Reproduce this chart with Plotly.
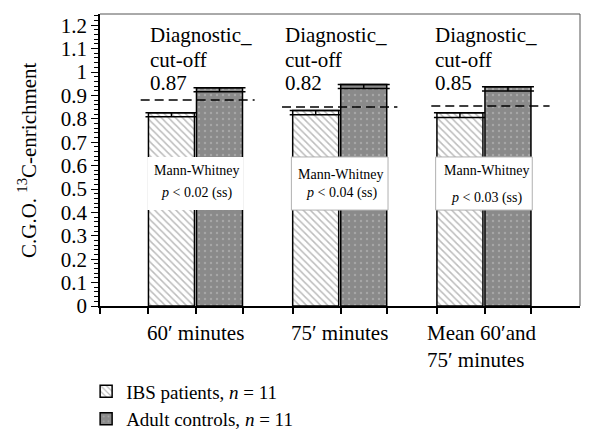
import plotly.graph_objects as go

# ---------------- data ----------------
categories = ["60′ minutes", "75′ minutes", "Mean 60′and<br>75′ minutes"]
series_names = ["IBS patients, <i>n</i> = 11", "Adult controls, <i>n</i> = 11"]
ibs_top = [0.826, 0.836, 0.826]
ibs_err = [0.017, 0.019, 0.020]
ctrl_top = [0.933, 0.947, 0.937]
ctrl_err = [0.017, 0.017, 0.018]
cutoff_line = [0.88, 0.85, 0.855]
cutoff_labels = ["0.87", "0.82", "0.85"]
p_labels = ["<i>p</i> < 0.02 (ss)", "<i>p</i> < 0.04 (ss)", "<i>p</i> < 0.03 (ss)"]
y_ticks = [0, 0.1, 0.2, 0.3, 0.4, 0.5, 0.6, 0.7, 0.8, 0.9, 1.0, 1.1, 1.2]

FONT = "Liberation Serif, Times New Roman, serif"
xpos = list(range(len(categories)))
BW = 0.319
OFF_IBS = -0.326
OFF_CTRL = 0.007
XR = [-0.662, 2.666]
YR = [0, 1.248]

fig = go.Figure()
fig.add_trace(go.Bar(
    x=xpos, y=ibs_top, name=series_names[0], width=BW, offset=OFF_IBS,
    marker=dict(color="white", line=dict(color="black", width=1.5),
                pattern=dict(shape="\\", fgcolor="#7a7a7a", bgcolor="white",
                             size=5, solidity=0.3)),
    error_y=dict(type="data", symmetric=False, array=[0] * 3, arrayminus=ibs_err,
                 color="black", thickness=1.5, width=26),
))
fig.add_trace(go.Bar(
    x=xpos, y=ctrl_top, name=series_names[1], width=BW, offset=OFF_CTRL,
    marker=dict(color="#8a8a8a", line=dict(color="black", width=1.5),
                pattern=dict(shape=".", fgcolor="#c4c4c4", bgcolor="#8a8a8a",
                             size=6, solidity=0.12)),
    error_y=dict(type="data", symmetric=False, array=[0] * 3, arrayminus=ctrl_err,
                 color="black", thickness=1.5, width=26),
))

shapes = []
annotations = []
label_dx = [-0.33, -0.395, -0.355]
dash_x = [(-0.38, 0.41), (-0.40, 0.40), (-0.365, 0.455)]
mw_dx = [0.01, 0.01, 0.02]
mw_y = [(0.578, 0.484), (0.56, 0.483), (0.581, 0.463)]
box_border = ["rgba(0,0,0,0)", "#b0b0b0", "#b0b0b0"]
for i, c in enumerate(categories):
    # white box hiding the middle part of the bars
    shapes.append(dict(type="rect", xref="x", yref="y", x0=i - 0.335, x1=i + 0.335,
                       y0=0.41, y1=0.637, fillcolor="white",
                       line=dict(color=box_border[i], width=1), layer="above"))
    # dashed cut-off line
    shapes.append(dict(type="line", xref="x", yref="y", x0=i + dash_x[i][0],
                       x1=i + dash_x[i][1], y0=cutoff_line[i], y1=cutoff_line[i],
                       line=dict(color="black", width=1.5, dash="9px,5px"),
                       layer="above"))
    # cut-off labels
    for txt, yy in (("Diagnostic_", 1.16), ("cut-off", 1.05), (cutoff_labels[i], 0.952)):
        annotations.append(dict(x=i + label_dx[i], y=yy, xref="x", yref="y", text=txt,
                                showarrow=False, xanchor="left", yanchor="middle",
                                font=dict(family=FONT, size=21, color="black")))
    # Mann-Whitney text
    annotations.append(dict(x=i + mw_dx[i], y=mw_y[i][0], xref="x", yref="y",
                            text="Mann-Whitney", showarrow=False,
                            font=dict(family=FONT, size=14, color="black")))
    annotations.append(dict(x=i + mw_dx[i], y=mw_y[i][1], xref="x", yref="y",
                            text=p_labels[i], showarrow=False,
                            font=dict(family=FONT, size=14, color="black")))

# category labels
for i, c in enumerate(categories):
    if i < 2:
        annotations.append(dict(x=i, y=-0.046, xref="x", yref="paper", text=c,
                                showarrow=False, xanchor="center", yanchor="top",
                                font=dict(family=FONT, size=21, color="black")))
    else:
        annotations.append(dict(x=i - 0.41, y=-0.046, xref="x", yref="paper", text=c,
                                showarrow=False, xanchor="left", yanchor="top",
                                align="left",
                                font=dict(family=FONT, size=21, color="black")))

# y-axis title
annotations.append(dict(x=-0.152, y=0.5, xref="paper", yref="paper",
                        text="C.G.O. <sup>13</sup>C-enrichment", textangle=-90,
                        showarrow=False, xanchor="center", yanchor="middle",
                        font=dict(family=FONT, size=21, color="black")))

# top & right frame
shapes.append(dict(type="line", xref="paper", yref="paper", x0=0, x1=1, y0=1, y1=1,
                   line=dict(color="#555", width=1)))
shapes.append(dict(type="line", xref="paper", yref="paper", x0=1, x1=1, y0=0, y1=1,
                   line=dict(color="#555", width=1)))

tickx = [XR[0]]
for i in xpos:
    tickx += [i + OFF_IBS, i + OFF_CTRL, i + OFF_CTRL + BW]

fig.update_layout(
    width=594, height=448,
    margin=dict(l=100, r=14, t=14, b=142, autoexpand=False),
    paper_bgcolor="white", plot_bgcolor="white",
    barmode="overlay",
    font=dict(family=FONT, size=21, color="black"),
    shapes=shapes, annotations=annotations,
    showlegend=True,
    legend=dict(xref="container", yref="container", x=0.145, y=0.169,
                xanchor="left", yanchor="top",
                font=dict(family=FONT, size=19, color="black"),
                bgcolor="rgba(0,0,0,0)", tracegroupgap=0, itemwidth=30),
    xaxis=dict(range=XR, tickvals=tickx, showticklabels=False,
               ticks="outside", ticklen=6, tickwidth=1.5, tickcolor="black",
               showline=True, linecolor="black", linewidth=1.5, automargin=False,
               showgrid=False, zeroline=False),
    yaxis=dict(range=YR, tickvals=y_ticks, ticks="outside", ticklen=7, tickwidth=1.2,
               tickcolor="black", showline=True, linecolor="black", linewidth=1.5,
               showgrid=False, zeroline=False, automargin=False,
               tickfont=dict(family=FONT, size=21, color="black"),
               minor=dict(dtick=0.02, ticks="outside", ticklen=4, tickwidth=1,
                          tickcolor="black")),
)

fig.write_html("out.html", config={"displayModeBar": False},
               post_script="document.body.style.margin='0';")
